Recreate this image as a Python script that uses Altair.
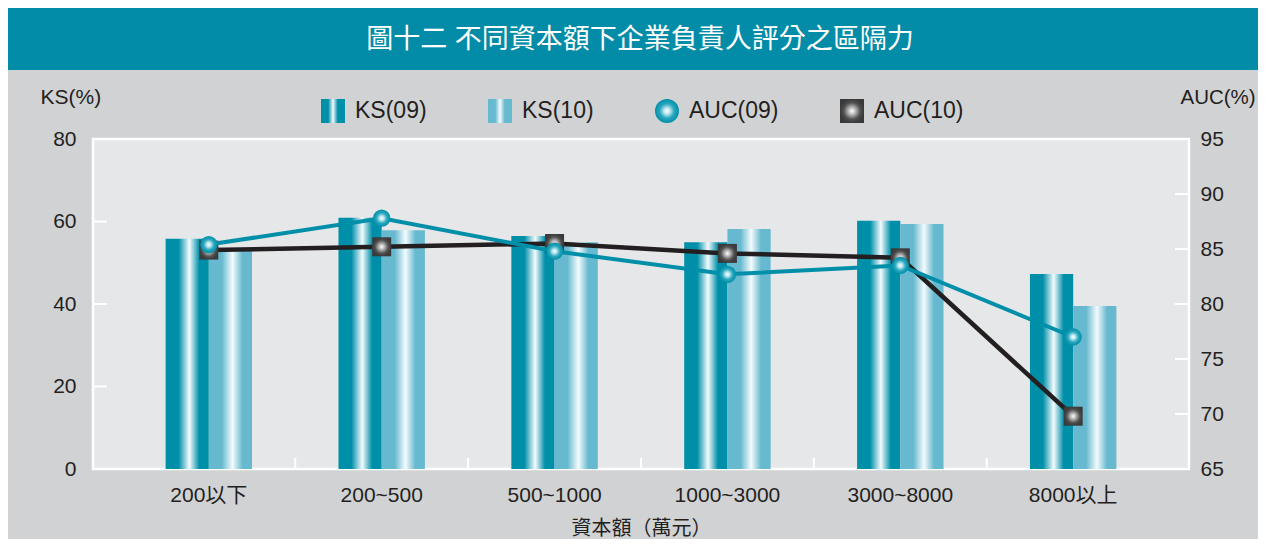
import altair as alt
import pandas as pd

categories = ["200以下", "200~500", "500~1000", "1000~3000", "3000~8000", "8000以上"]
ks09 = [55.8, 60.9, 56.5, 55.0, 60.2, 47.3]
ks10 = [52.9, 57.9, 55.0, 58.2, 59.4, 39.5]
auc09 = [85.4, 87.8, 84.8, 82.7, 83.5, 77.0]
auc10 = [84.9, 85.2, 85.5, 84.6, 84.2, 69.8]
series = ["KS(09)", "KS(10)", "AUC(09)", "AUC(10)"]
ks_ticks = [20, 40, 60]
auc_ticks = [70, 75, 80, 85, 90]
title_text = "圖十二  不同資本額下企業負責人評分之區隔力"
x_title = "資本額（萬元）"

FONT = "Liberation Sans, Noto Sans CJK TC, sans-serif"
TEAL = "#008fa9"
LIGHT = "#67b9cf"
DARK = "#231f20"
W, H = 1096, 330

bars = pd.DataFrame(
    [{"cat": c, "series": "KS(09)", "v": v} for c, v in zip(categories, ks09)]
    + [{"cat": c, "series": "KS(10)", "v": v} for c, v in zip(categories, ks10)]
)
auc_df = pd.DataFrame({"cat": categories, "a09": auc09, "a10": auc10})

xaxis = alt.Axis(
    title=x_title, labelFontSize=21, titleFontSize=20, labelColor=DARK,
    titleColor=DARK, ticks=False, domain=False, labelPadding=15,
    titlePadding=13, labelAngle=0, titleFontWeight="normal",
    labelFont=FONT, titleFont=FONT,
)
xscale = alt.Scale(domain=categories, paddingInner=0, paddingOuter=0.17)
xenc = alt.X("cat:N", scale=xscale, axis=xaxis)

ks_scale = alt.Scale(domain=[0, 80], nice=False, zero=True)
auc_scale = alt.Scale(domain=[65, 95], nice=False, zero=False)

ks_axis = alt.Axis(
    title="KS(%)", values=[0, 20, 40, 60, 80], ticks=False, domain=False,
    grid=False, labelFontSize=21, labelColor=DARK, labelPadding=17,
    titleAngle=0, titleAlign="left", titleBaseline="middle", titleX=-53,
    titleY=-42, titleFontSize=21, titleFontWeight="normal", titleColor=DARK,
    labelFont=FONT, titleFont=FONT,
)
auc_axis = alt.Axis(
    title="AUC(%)", orient="right", values=[65, 70, 75, 80, 85, 90, 95],
    ticks=False, domain=False, grid=False, labelFontSize=21, labelColor=DARK,
    labelPadding=11, titleAngle=0, titleAlign="left", titleBaseline="middle",
    titleX=-9, titleY=-42, titleFontSize=20.5, titleFontWeight="normal",
    titleColor=DARK, labelFont=FONT, titleFont=FONT,
)


def lin(c, hi="#f4fbfd"):
    return {
        "gradient": "linear", "x1": 0, "x2": 1, "y1": 0, "y2": 0,
        "stops": [
            {"offset": 0, "color": c}, {"offset": 0.3, "color": c},
            {"offset": 0.55, "color": hi}, {"offset": 0.78, "color": c},
            {"offset": 1, "color": c},
        ],
    }


def rad(stops):
    return {
        "gradient": "radial", "x1": 0.5, "y1": 0.5, "r1": 0,
        "x2": 0.5, "y2": 0.5, "r2": 0.5,
        "stops": [{"offset": o, "color": c} for o, c in stops],
    }


circ_grad = rad([(0, "#ffffff"), (0.25, "#bfe8f0"), (0.6, "#2aa7be"), (1, TEAL)])
sq_grad = rad([(0, "#ffffff"), (0.3, "#b8b8b8"), (0.7, "#505050"), (1, "#3a3a3a")])
leg_grads = {
    "KS(09)": {**lin(TEAL), "stops": [{"offset": 0, "color": TEAL}, {"offset": 0.3, "color": TEAL},
                                        {"offset": 0.5, "color": "#f4fbfd"}, {"offset": 0.7, "color": TEAL},
                                        {"offset": 1, "color": TEAL}]},
    "KS(10)": {**lin(LIGHT), "stops": [{"offset": 0, "color": LIGHT}, {"offset": 0.3, "color": LIGHT},
                                         {"offset": 0.5, "color": "#f4fbfd"}, {"offset": 0.7, "color": LIGHT},
                                         {"offset": 1, "color": LIGHT}]},
    "AUC(09)": circ_grad,
    "AUC(10)": sq_grad,
}


def js(o):
    if isinstance(o, dict):
        return "{" + ",".join("%s:%s" % (k, js(v)) for k, v in o.items()) + "}"
    if isinstance(o, list):
        return "[" + ",".join(js(v) for v in o) + "]"
    if isinstance(o, str):
        return "'%s'" % o
    return str(o)


leg_sig = " : ".join("datum.value === '%s' ? %s" % (k, js(v)) for k, v in list(leg_grads.items())[:3]) + " : " + js(leg_grads["AUC(10)"])

xoff = alt.XOffset("series:N", scale=alt.Scale(domain=["KS(09)", "KS(10)"], paddingInner=0, paddingOuter=1))

bar09 = alt.Chart(bars).transform_filter("datum.series == 'KS(09)'").mark_bar(
    color=lin(TEAL)
).encode(x=xenc, xOffset=xoff, y=alt.Y("v:Q", scale=ks_scale, axis=ks_axis))
bar10 = alt.Chart(bars).transform_filter("datum.series == 'KS(10)'").mark_bar(
    color=lin(LIGHT)
).encode(x=xenc, xOffset=xoff, y=alt.Y("v:Q", scale=ks_scale, axis=ks_axis))

xt = pd.DataFrame({"cat": categories[1:]})
xticks = alt.Chart(xt).mark_rule(color="white", strokeWidth=2).encode(
    x=alt.X("cat:N", bandPosition=0, scale=xscale, axis=xaxis),
    y=alt.value(H), y2=alt.value(H - 11),
)
lt = alt.Chart(pd.DataFrame({"t": ks_ticks})).mark_rule(color="white", strokeWidth=2).encode(
    y=alt.Y("t:Q", scale=ks_scale, axis=ks_axis), x=alt.value(0), x2=alt.value(14)
)

legend = alt.Legend(
    title=None, orient="none", legendX=228, legendY=-40, direction="horizontal",
    columns=4, columnPadding=61, labelFontSize=23, labelOffset=10,
    symbolSize=576, symbolStrokeWidth=0, labelColor=DARK, labelFont=FONT,
    padding=0, symbolOpacity=1,
)
leg_layer = alt.Chart(alt.Data(values=[{"series": "KS(09)", "cat": "200以下"}])).transform_filter("false").mark_point(
    filled=True, opacity=1
).encode(
    x=xenc,
    color=alt.Color("series:N", scale=alt.Scale(domain=series, range=[TEAL, LIGHT, "#1a9cb3", "#3a3a3a"]), legend=legend),
    shape=alt.Shape("series:N", scale=alt.Scale(domain=series, range=["square", "square", "circle", "square"]), legend=legend),
)

banner = alt.Chart(alt.Data(values=[{}])).mark_rect(color="#038ca7").encode(
    x=alt.value(-85), x2=alt.value(1165), y=alt.value(-131), y2=alt.value(-69)
)
banner_text = alt.Chart(alt.Data(values=[{}])).mark_text(
    color="white", fontSize=27, font=FONT, fontWeight="normal", align="center", baseline="middle"
).encode(x=alt.value(547), y=alt.value(-99), text=alt.value(title_text))

ks_group = alt.layer(banner, banner_text, bar09, bar10, xticks, lt, leg_layer)

auc_y09 = alt.Y("a09:Q", scale=auc_scale, axis=auc_axis)
auc_y10 = alt.Y("a10:Q", scale=auc_scale, axis=auc_axis)
line10 = alt.Chart(auc_df).mark_line(color=DARK, strokeWidth=4.5).encode(x=xenc, y=auc_y10)
pts10 = alt.Chart(auc_df).mark_point(shape="square", filled=True, size=361, color=sq_grad, opacity=1).encode(x=xenc, y=auc_y10)
line09 = alt.Chart(auc_df).mark_line(color=TEAL, strokeWidth=4).encode(x=xenc, y=auc_y09)
pts09 = alt.Chart(auc_df).mark_point(shape="circle", filled=True, size=300, color=circ_grad, opacity=1).encode(x=xenc, y=auc_y09)
rt = alt.Chart(pd.DataFrame({"a09": auc_ticks})).mark_rule(color="white", strokeWidth=2).encode(
    y=auc_y09, x=alt.value(W - 14), x2=alt.value(W)
)
auc_group = alt.layer(rt, line10, pts10, line09, pts09)

chart = alt.layer(ks_group, auc_group).resolve_scale(y="independent").properties(
    width=W, height=H, background="#d1d2d4",
    padding={"left": 0, "top": 0, "right": 0, "bottom": 1},
).configure_view(fill="#e6e7e8", stroke="white", strokeWidth=2.5).configure_text(font=FONT)

patch = [
    {"op": "add", "path": "/legends/0/encode",
     "value": {"symbols": {"update": {"fill": {"signal": leg_sig}, "opacity": {"value": 1},
                                      "strokeWidth": {"value": 0}}}}},
]

chart.save("out.html", embed_options={"renderer": "svg", "actions": False, "patch": patch})
